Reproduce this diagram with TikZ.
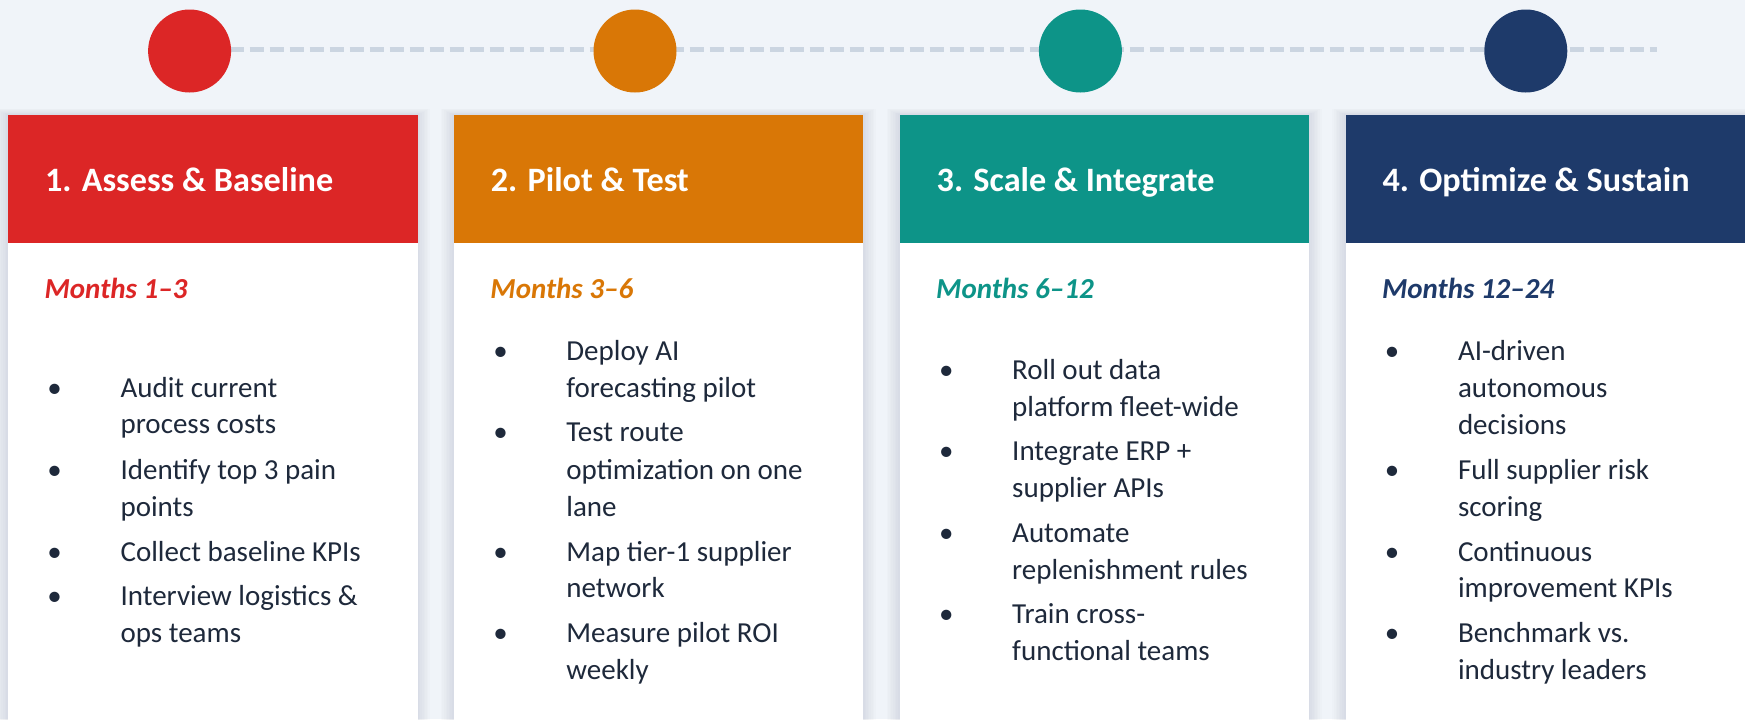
\documentclass[tikz,border=0pt]{standalone}
\usepackage{fontspec}
\setmainfont{Carlito}
\definecolor{cred}{HTML}{DC2626}
\definecolor{corange}{HTML}{D97706}
\definecolor{cteal}{HTML}{0D9488}
\definecolor{cnavy}{HTML}{1E3A6A}
\definecolor{ctext}{HTML}{1E293B}
\definecolor{bgc}{HTML}{F0F4F9}
\definecolor{dashc}{HTML}{CBD5E1}
\definecolor{shadowc}{HTML}{64748B}
\begin{document}
\begin{tikzpicture}[x=0.5pt,y=-0.5pt,
  hdr/.style={fill=#1, anchor=north west, minimum width=204.75pt, minimum height=64pt, inner sep=0pt, draw=none},
  bodybox/.style={fill=white, anchor=north west, minimum width=204.75pt, minimum height=250pt, inner sep=0pt, draw=none},
  dot/.style={circle, fill=#1, minimum size=41.5pt, inner sep=0pt, draw=none},
  htext/.style={text=white, font=\fontsize{17.1}{21}\selectfont\bfseries, anchor=base west, inner sep=0pt},
  mtext/.style={text=#1, font=\fontsize{14.5}{18}\selectfont\bfseries\itshape, anchor=base west, inner sep=0pt},
  btext/.style={text=ctext, font=\fontsize{14.5}{18}\selectfont, anchor=base west, inner sep=0pt},
  bmark/.style={text=ctext, font=\fontsize{14.5}{18}\selectfont, anchor=base, inner sep=0pt},
  dashline/.style={draw=dashc, line width=2.35pt, dash pattern=on 7pt off 3pt}]
\fill[bgc] (0,0) rectangle (1745,719);
\useasboundingbox (0,0) rectangle (1745,719);
\clip (0,0) rectangle (1745,719);
% shadows
\foreach \L in {7.7,453.5,899.3,1345.1}{
  \foreach \k in {1,...,8}{
    \fill[shadowc, opacity=0.02] (\L-\k*1.6, 115-\k*0.8) rectangle (\L+409.5+\k*1.6, 760);
  }
}
% timeline
\coordinate (ls) at (189.6,49.5);
\coordinate (le) at (1657,49.5);
\draw[dashline] (ls) -- (le);
\node[dot=cred] (c1) at (189.6,51) {};
\node[dot=corange] (c2) at (635,51) {};
\node[dot=cteal] (c3) at (1080.4,51) {};
\node[dot=cnavy] (c4) at (1525.8,51) {};
% cards
\foreach \L/\col/\ttl/\mon [count=\i] in {
  7.7/cred/{1. Assess \& Baseline}/{Months 1--3},
  453.5/corange/{2. Pilot \& Test}/{Months 3--6},
  899.3/cteal/{3. Scale \& Integrate}/{Months 6--12},
  1345.1/cnavy/{4. Optimize \& Sustain}/{Months 12--24}}{
  \node[bodybox] (b\i) at (\L,243) {};
  \node[hdr=\col] (h\i) at (\L,115) {};
  \node[htext] (t\i) at (\L+37,191) {\ttl};
  \node[mtext=\col] (m\i) at (\L+36.5,298.3) {\mon};
}
% card 1
\foreach \y/\txt [count=\j] in {397.3/{Audit current},433.3/{process costs},479.3/{Identify top 3 pain},516/{points},561/{Collect baseline KPIs},605.7/{Interview logistics \&},642.3/{ops teams}}{
  \node[btext] (a\j) at (7.7+112.5,\y) {\txt};
}
\foreach \y [count=\j] in {397.3,479.3,561,605.7}{
  \node[bmark] (ad\j) at (7.7+47,\y) {•};
}
% card 2
\foreach \y/\txt [count=\j] in {360.7/{Deploy AI},397.3/{forecasting pilot},441.7/{Test route},479.3/{optimization on one},516/{lane},561/{Map tier-1 supplier},597.7/{network},642.3/{Measure pilot ROI},679/{weekly}}{
  \node[btext] (p\j) at (453.5+112.5,\y) {\txt};
}
\foreach \y [count=\j] in {360.7,441.7,561,642.3}{
  \node[bmark] (pd\j) at (453.5+47,\y) {•};
}
% card 3
\foreach \y/\txt [count=\j] in {379.3/{Roll out data},416/{platform fleet-wide},460.7/{Integrate ERP +},497.3/{supplier APIs},542.3/{Automate},579/{replenishment rules},623.3/{Train cross-},660/{functional teams}}{
  \node[btext] (s\j) at (899.3+112.5,\y) {\txt};
}
\foreach \y [count=\j] in {379.3,460.7,542.3,623.3}{
  \node[bmark] (sd\j) at (899.3+47,\y) {•};
}
% card 4
\foreach \y/\txt [count=\j] in {360.7/{AI-driven},397.3/{autonomous},434/{decisions},479.3/{Full supplier risk},516/{scoring},561/{Continuous},597.7/{improvement KPIs},642.3/{Benchmark vs.},679/{industry leaders}}{
  \node[btext] (o\j) at (1345.1+112.5,\y) {\txt};
}
\foreach \y [count=\j] in {360.7,479.3,561,642.3}{
  \node[bmark] (od\j) at (1345.1+47,\y) {•};
}
\end{tikzpicture}
\end{document}
